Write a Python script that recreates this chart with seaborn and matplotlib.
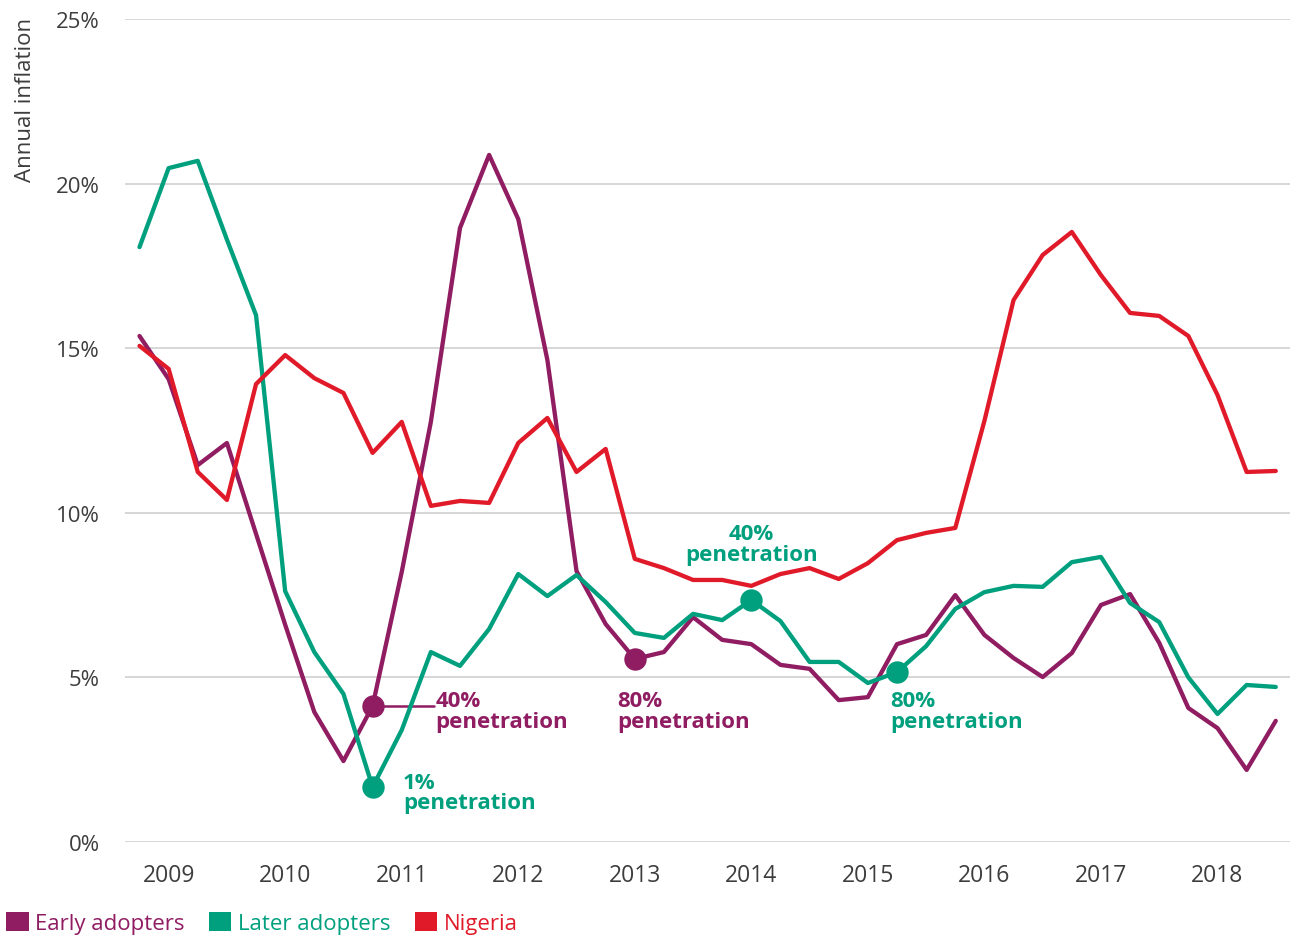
import pandas as pd
import seaborn as sns
import matplotlib.pyplot as plt
from matplotlib.patches import Patch

# quarterly data, 2008 Q4 .. 2018 Q3
quarter = list(range(40))
years = ['2009', '2010', '2011', '2012', '2013', '2014', '2015', '2016', '2017', '2018']
year_ticks = [1, 5, 9, 13, 17, 21, 25, 29, 33, 37]

early = [15.37, 14.06, 11.45, 12.12, 9.36, 6.6, 3.95, 2.46, 4.13, 8.2,
         12.76, 18.65, 20.87, 18.92, 14.64, 8.23, 6.62, 5.56, 5.77, 6.83,
         6.14, 6.01, 5.38, 5.26, 4.31, 4.4, 6.01, 6.29, 7.5, 6.29,
         5.59, 5.01, 5.74, 7.2, 7.53, 6.05, 4.07, 3.46, 2.19, 3.68]
later = [18.07, 20.47, 20.69, 18.3, 16.0, 7.62, 5.77, 4.5, 1.67, 3.4,
         5.77, 5.35, 6.47, 8.14, 7.47, 8.11, 7.29, 6.35, 6.2, 6.93,
         6.74, 7.35, 6.71, 5.47, 5.47, 4.83, 5.16, 5.95, 7.08, 7.59,
         7.78, 7.75, 8.5, 8.66, 7.26, 6.68, 5.0, 3.89, 4.77, 4.71]
nigeria = [15.07, 14.37, 11.24, 10.39, 13.91, 14.79, 14.09, 13.64, 11.82, 12.76,
           10.21, 10.36, 10.3, 12.12, 12.88, 11.24, 11.94, 8.6, 8.32, 7.96,
           7.96, 7.78, 8.14, 8.32, 7.99, 8.47, 9.17, 9.39, 9.54, 12.79,
           16.46, 17.83, 18.53, 17.22, 16.07, 15.98, 15.37, 13.58, 11.24, 11.27]

groups = ['Early adopters', 'Later adopters', 'Nigeria']
colors = {'Early adopters': '#901C62', 'Later adopters': '#00A07F', 'Nigeria': '#E11A2A'}

# penetration milestones: (group, quarter index, text, text x, text y, ha)
notes = [
    ('Later adopters', 8, '1%\npenetration', 9.05, 1.5, 'left'),
    ('Early adopters', 8, '40%\npenetration', 10.15, 3.98, 'left'),
    ('Early adopters', 17, '80%\npenetration', 16.4, 3.98, 'left'),
    ('Later adopters', 21, '40%\npenetration', 21.0, 9.05, 'center'),
    ('Later adopters', 26, '80%\npenetration', 25.78, 3.98, 'left'),
]

df = pd.DataFrame({
    'quarter': quarter * 3,
    'inflation': early + later + nigeria,
    'group': [g for g in groups for _ in quarter],
})
series = {'Early adopters': early, 'Later adopters': later, 'Nigeria': nigeria}

sns.set_style('white')
plt.rcParams['font.family'] = ['Open Sans', 'DejaVu Sans']

fig = plt.figure(figsize=(12.92, 9.37), dpi=100)
ax = fig.add_axes([0.0967, 0.1003, 0.902, 0.8784])

sns.lineplot(data=df, x='quarter', y='inflation', hue='group', hue_order=groups,
             palette=colors, linewidth=3.1, legend=False, ax=ax, zorder=3)

# connector for early adopters 40% label
ax.plot([8, 10.1], [early[8], early[8]], color=colors['Early adopters'], lw=1.8, zorder=2)

for g, i, txt, tx, ty, ha in notes:
    ax.scatter([quarter[i]], [series[g][i]], s=260, color=colors[g], zorder=4, linewidths=0)
    ax.text(tx, ty, txt, color=colors[g], fontsize=16, fontweight='bold',
            ha=ha, va='center', linespacing=0.98, zorder=5)

ax.set_xlim(-0.5, 39.5)
ax.set_ylim(0, 25)
ax.set_yticks([0, 5, 10, 15, 20, 25])
ax.set_yticklabels(['0%', '5%', '10%', '15%', '20%', '25%'])
ax.set_xticks(year_ticks)
ax.set_xticklabels(years)
ax.tick_params(axis='y', length=0, pad=18, labelsize=16, labelcolor='#3d3d3d')
ax.tick_params(axis='x', length=0, pad=15, labelsize=16.5, labelcolor='#3d3d3d')
ax.grid(axis='y', color='#cfcfcf', linewidth=1.2)
ax.grid(axis='x', visible=False)
ax.set_xlabel('')
ax.set_ylabel('')
for s in ax.spines.values():
    s.set_visible(False)

fig.text(0.0195, 0.981, 'Annual inflation', rotation=90, ha='center', va='top',
         fontsize=16, color='#3d3d3d')

handles = [Patch(facecolor=colors[g], edgecolor='none') for g in groups]
leg = fig.legend(handles, groups, loc='center left', bbox_to_anchor=(-0.002, 0.014),
                 ncol=3, frameon=False, fontsize=16, handlelength=1.0, handleheight=1.0,
                 handletextpad=0.3, columnspacing=1.1, borderaxespad=0)
for t, g in zip(leg.get_texts(), groups):
    t.set_color(colors[g])

fig.savefig('out.png', dpi=100)
